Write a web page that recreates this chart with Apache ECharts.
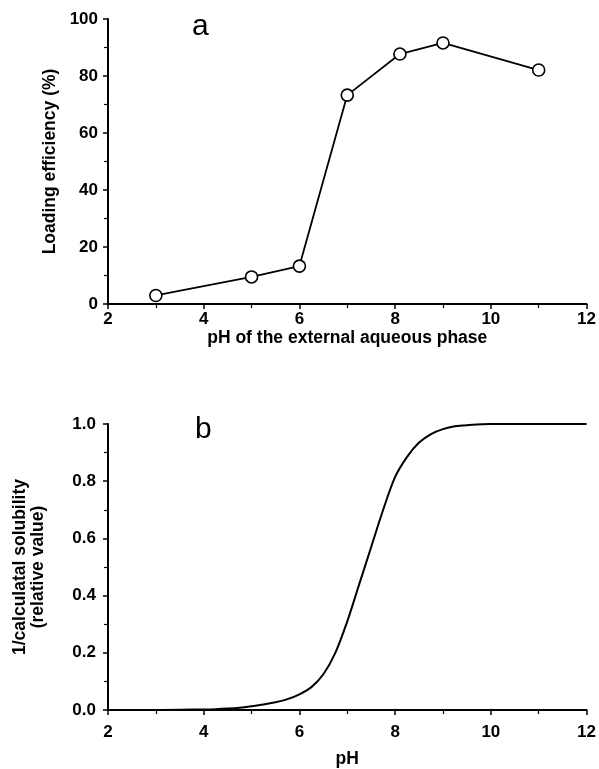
<!DOCTYPE html>
<html>
<head>
<meta charset="utf-8">
<script src="https://cdn.jsdelivr.net/npm/echarts@6/dist/echarts.min.js"></script>
<style>
  html, body { margin: 0; padding: 0; background: #fff; }
  #chart { width: 599px; height: 769px; }
</style>
</head>
<body>
<div id="chart"></div>
<script>
// panel a: loading efficiency vs external pH
const phA = [3, 5, 6, 7, 8.1, 9, 11];
const loading = [3, 9.5, 13.3, 73.3, 87.7, 91.6, 82.1];

// panel b: 1/calculated solubility (relative value)
const phB = [2, 3, 4, 4.25, 4.5, 4.75, 5, 5.25, 5.5, 5.75, 6, 6.25, 6.5, 6.75, 7, 7.25, 7.5, 7.75, 8, 8.25, 8.5, 8.75, 9, 9.25, 9.5, 10, 11, 12];
const solub = [0, 0, 0.002, 0.003, 0.005, 0.008, 0.013, 0.019, 0.027, 0.038, 0.055, 0.08, 0.125, 0.2, 0.31, 0.44, 0.57, 0.7, 0.815, 0.885, 0.935, 0.965, 0.982, 0.992, 0.996, 1.0, 1.0, 1.0];

const font = '"Liberation Sans", Arial, sans-serif';
const black = '#000';

function xAxis(gridIndex, margin, name, nameGap) {
  return {
    type: 'value', gridIndex: gridIndex,
    min: 2, max: 12, interval: 2,
    name: name, nameLocation: 'middle', nameGap: nameGap,
    nameTextStyle: { color: black, fontFamily: font, fontWeight: 'bold', fontSize: 17.5 },
    axisLine: { show: true, lineStyle: { color: black, width: 2 } },
    axisTick: { show: true, length: 5, lineStyle: { color: black, width: 1.5 } },
    minorTick: { show: true, splitNumber: 2, length: 4, lineStyle: { color: black, width: 1.2 } },
    axisLabel: { color: black, fontFamily: font, fontWeight: 'bold', fontSize: 17, margin: margin },
    splitLine: { show: false }
  };
}

function yAxis(gridIndex, max, interval, fmt, margin, name, nameGap) {
  return {
    type: 'value', gridIndex: gridIndex,
    min: 0, max: max, interval: interval,
    name: name, nameLocation: 'middle', nameGap: nameGap,
    nameTextStyle: { color: black, fontFamily: font, fontWeight: 'bold', fontSize: 17.5, lineHeight: 18, align: 'center' },
    axisLine: { show: true, lineStyle: { color: black, width: 2 } },
    axisTick: { show: true, length: 5, lineStyle: { color: black, width: 1.5 } },
    minorTick: { show: true, splitNumber: 2, length: 4, lineStyle: { color: black, width: 1.2 } },
    axisLabel: { color: black, fontFamily: font, fontWeight: 'bold', fontSize: 17, margin: margin, formatter: fmt },
    splitLine: { show: false }
  };
}

const chart = echarts.init(document.getElementById('chart'), null, { renderer: 'canvas' });

chart.setOption({
  backgroundColor: '#fff',
  animation: false,
  grid: [
    { left: 108, right: 11, top: 19, height: 285 },
    { left: 108, right: 10, top: 424, height: 287 }
  ],
  xAxis: [
    xAxis(0, 7, 'pH of the external aqueous phase', 19),
    xAxis(1, 14, 'pH', 40)
  ],
  yAxis: [
    yAxis(0, 100, 20, null, 10, 'Loading efficiency (%)', 44),
    yAxis(1, 1, 0.2, function (v) { return v.toFixed(1); }, 12, '1/calculatal solubility\n(relative value)', 61)
  ],
  graphic: [
    { type: 'text', left: 192, top: 12, style: { text: 'a', font: '30px ' + font, fill: black } },
    { type: 'text', left: 195, top: 415, style: { text: 'b', font: '30px ' + font, fill: black } }
  ],
  series: [
    {
      type: 'line', xAxisIndex: 0, yAxisIndex: 0,
      data: phA.map((x, i) => [x, loading[i]]),
      symbol: 'circle', symbolSize: 12,
      lineStyle: { color: black, width: 1.8 },
      itemStyle: { color: '#fff', borderColor: black, borderWidth: 1.6 },
      z: 3
    },
    {
      type: 'line', xAxisIndex: 1, yAxisIndex: 1,
      data: phB.map((x, i) => [x, solub[i]]),
      smooth: 0.3, showSymbol: false,
      lineStyle: { color: black, width: 2 }
    }
  ]
});
</script>
</body>
</html>
